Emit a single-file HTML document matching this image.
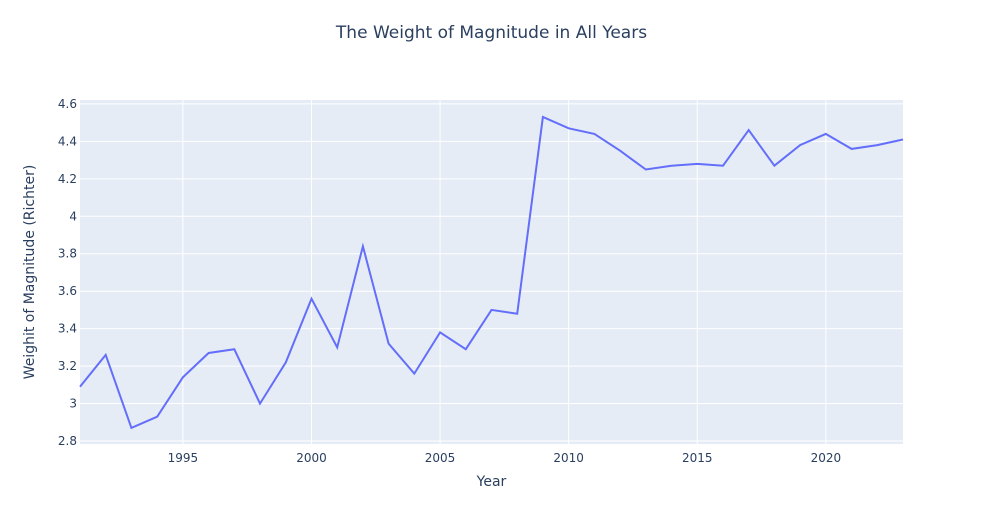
<!DOCTYPE html>
<html><head><meta charset="utf-8"><style>
body{margin:0;background:#fff;font-family:"DejaVu Sans",sans-serif;}
svg text{font-family:"DejaVu Sans",sans-serif;}
</style></head><body>
<svg id="chart" width="983" height="525" xmlns="http://www.w3.org/2000/svg">
<rect x="0" y="0" width="983" height="525" fill="#fff"/>
<text x="491.5" y="38" text-anchor="middle" font-size="17" fill="#2a3f5f">The Weight of Magnitude in All Years</text>
<rect x="80" y="100" width="823" height="344" fill="#e5ecf6"/>
<g id="grid"></g>
<g id="ticks"></g>
<path id="line" fill="none" stroke="#636efa" stroke-width="2"/>
<text x="491.5" y="486" text-anchor="middle" font-size="14" fill="#2a3f5f">Year</text>
<text transform="translate(34,272) rotate(-90)" text-anchor="middle" font-size="14" fill="#2a3f5f">Weighit of Magnitude (Richter)</text>
</svg>
<script>
const years=[1991,1992,1993,1994,1995,1996,1997,1998,1999,2000,2001,2002,2003,2004,2005,2006,2007,2008,2009,2010,2011,2012,2013,2014,2015,2016,2017,2018,2019,2020,2021,2022,2023];
const magnitudes=[3.09,3.26,2.87,2.93,3.14,3.27,3.29,3.00,3.22,3.56,3.30,3.84,3.32,3.16,3.38,3.29,3.50,3.48,4.53,4.47,4.44,4.35,4.25,4.27,4.28,4.27,4.46,4.27,4.38,4.44,4.36,4.38,4.41];
const xTicks=[1995,2000,2005,2010,2015,2020];
const yTicks=[2.8,3,3.2,3.4,3.6,3.8,4,4.2,4.4,4.6];
const yTickLabels=["2.8","3","3.2","3.4","3.6","3.8","4","4.2","4.4","4.6"];
const X0=80,X1=903,Y0=444,Y1=100,xmin=1991,xmax=2023,ymin=2.784,ymax=4.621;
const xs=v=>X0+(v-xmin)/(xmax-xmin)*(X1-X0);
const ys=v=>Y0-(v-ymin)/(ymax-ymin)*(Y0-Y1);
const NS="http://www.w3.org/2000/svg";
const grid=document.getElementById('grid'),ticks=document.getElementById('ticks');
xTicks.forEach(t=>{
 const l=document.createElementNS(NS,'line');
 
 
 l.setAttribute('x1',xs(t));l.setAttribute('x2',xs(t));l.setAttribute('y1',Y1);l.setAttribute('y2',Y0);
 l.setAttribute('stroke','#fff');l.setAttribute('stroke-width','1');grid.appendChild(l);
 const tx=document.createElementNS(NS,'text');
 
 
 tx.setAttribute('x',xs(t));tx.setAttribute('y',Y0+18);tx.setAttribute('text-anchor','middle');
 tx.setAttribute('font-size','12');tx.setAttribute('fill','#2a3f5f');tx.textContent=t;ticks.appendChild(tx);
});
yTicks.forEach((t,i)=>{
 const l=document.createElementNS(NS,'line');
 
 
 l.setAttribute('x1',X0);l.setAttribute('x2',X1);l.setAttribute('y1',ys(t));l.setAttribute('y2',ys(t));
 l.setAttribute('stroke','#fff');l.setAttribute('stroke-width','1');grid.appendChild(l);
 const tx=document.createElementNS(NS,'text');
 
 
 tx.setAttribute('x',X0-3);tx.setAttribute('y',ys(t)+4);tx.setAttribute('text-anchor','end');
 tx.setAttribute('font-size','12');tx.setAttribute('fill','#2a3f5f');tx.textContent=yTickLabels[i];ticks.appendChild(tx);
});
document.getElementById('line').setAttribute('d',years.map((y,i)=>(i?'L':'M')+xs(y).toFixed(1)+','+ys(magnitudes[i]).toFixed(1)).join(''));
</script>
</body></html>
